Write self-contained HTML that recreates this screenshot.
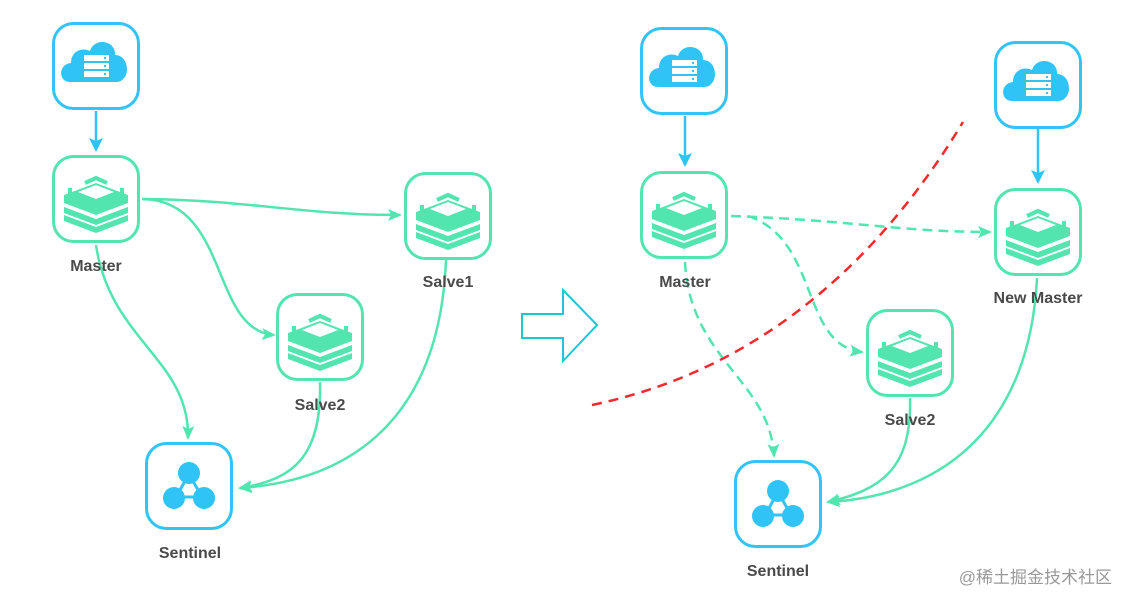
<!DOCTYPE html>
<html><head><meta charset="utf-8"><style>
html,body{margin:0;padding:0;background:#fff}
svg{display:block}
text{font-family:"Liberation Sans",sans-serif;font-weight:bold;font-size:16px;fill:#4a4a4a}
</style></head><body>
<svg width="1128" height="605" viewBox="0 0 1128 605" xmlns="http://www.w3.org/2000/svg">
<defs>
<marker id="ag" markerWidth="14" markerHeight="12" refX="12" refY="6" orient="auto" markerUnits="userSpaceOnUse"><path d="M0,0 L14,6 L0,12 L3,6 Z" fill="#4fe6b0"/></marker>
<marker id="ab" markerWidth="14" markerHeight="14" refX="12" refY="7" orient="auto" markerUnits="userSpaceOnUse"><path d="M0,0 L14,7 L0,14 L3,7 Z" fill="#2fc3f6"/></marker>
<g id="cloud">
<rect x="1.5" y="1.5" width="85" height="85" rx="20" fill="#fff" stroke="#33c3f6" stroke-width="3"/>
<path d="M18,60 C6,60 6,42 19,41 C19,29 30,25 38,29 C42,15 64,18 63,33 C76,33 78,52 71,57 C69,60 65,60 62,60 Z" fill="#2fc3f6"/>
<rect x="32" y="33" width="25" height="6" fill="#fff"/><rect x="32" y="41" width="25" height="6" fill="#fff"/><rect x="32" y="49" width="25" height="6" fill="#fff"/>
<circle cx="53" cy="36" r="1.2" fill="#2fc3f6"/><circle cx="53" cy="44" r="1.2" fill="#2fc3f6"/><circle cx="53" cy="52" r="1.2" fill="#2fc3f6"/>
</g>
<g id="redis">
<rect x="1.5" y="1.5" width="85" height="85" rx="20" fill="#fff" stroke="#52e5b0" stroke-width="3"/>
<g fill="#52e5b0">
<path d="M12,40 L44,28 L76,40 L76,48 L44,60 L12,48 Z"/>
<path d="M12,52 L44,64 L76,52 L76,58 L44,70 L12,58 Z"/>
<path d="M12,62 L44,74 L76,62 L76,68 L44,80 L12,68 Z" transform="translate(0,-2)"/>
</g>
<path d="M26,37 L44,30 L62,37 L44,44 Z" fill="#fff"/>
<path d="M33,28 L44,23 L55,28 M70,33 L70,39 M18,33 L18,39 M33,45 L44,49 L55,45" stroke="#52e5b0" stroke-width="4" fill="none"/>
</g>
<g id="sent">
<rect x="1.5" y="1.5" width="85" height="85" rx="20" fill="#fff" stroke="#33c3f6" stroke-width="3"/>
<path d="M44,32 L31,55 L57,55 Z" fill="none" stroke="#2fc3f6" stroke-width="3"/>
<circle cx="44" cy="31" r="11" fill="#2fc3f6"/><circle cx="29" cy="56" r="11" fill="#2fc3f6"/><circle cx="59" cy="56" r="11" fill="#2fc3f6"/>
</g>
</defs>
<g fill="none" stroke="#52e5b0" stroke-width="2.5">
<path d="M142,199 C250,200 300,215 400,215" marker-end="url(#ag)"/>
<path d="M142,199 C230,200 210,330 274,335" marker-end="url(#ag)"/>
<path d="M96,245 C110,340 190,360 188,438" marker-end="url(#ag)"/>
<path d="M320,382 C322,460 290,480 240,488" marker-end="url(#ag)"/>
<path d="M446,260 C440,410 360,480 240,488" marker-end="url(#ag)"/>
</g>
<path d="M96,111 L96,150" stroke="#2fc3f6" stroke-width="2.5" marker-end="url(#ab)"/>
<use href="#cloud" x="52" y="22"/>
<use href="#redis" x="52" y="155"/>
<use href="#redis" x="404" y="172"/>
<use href="#redis" x="276" y="293"/>
<use href="#sent" x="145" y="442"/>
<text x="96" y="271" text-anchor="middle">Master</text>
<text x="448" y="287" text-anchor="middle">Salve1</text>
<text x="320" y="410" text-anchor="middle">Salve2</text>
<text x="190" y="558" text-anchor="middle">Sentinel</text>
<path d="M522,314 L563,314 L563,290 L597,325 L563,361 L563,338 L522,338 Z" fill="#fff" stroke="#1fc6d6" stroke-width="2"/>
<g fill="none" stroke="#52e5b0" stroke-width="2.5" stroke-dasharray="10,6">
<path d="M731,216 C850,220 900,232 990,232" marker-end="url(#ag)"/>
<path d="M748,216 C820,240 800,345 862,352" marker-end="url(#ag)"/>
<path d="M685,262 C690,360 770,380 774,456" marker-end="url(#ag)"/>
</g>
<g fill="none" stroke="#52e5b0" stroke-width="2.5">
<path d="M910,398 C912,470 880,490 828,502" marker-end="url(#ag)"/>
<path d="M1037,278 C1030,420 950,495 828,502" marker-end="url(#ag)"/>
</g>
<path d="M685,116 L685,165" stroke="#2fc3f6" stroke-width="2.5" marker-end="url(#ab)"/>
<path d="M1038,129 L1038,182" stroke="#2fc3f6" stroke-width="2.5" marker-end="url(#ab)"/>
<path d="M592,405 C760,370 880,260 963,122" fill="none" stroke="#f02a2a" stroke-width="2.5" stroke-dasharray="10,7"/>
<use href="#cloud" x="640" y="27"/>
<use href="#redis" x="640" y="171"/>
<use href="#cloud" x="994" y="41"/>
<use href="#redis" x="994" y="188"/>
<use href="#redis" x="866" y="309"/>
<use href="#sent" x="734" y="460"/>
<text x="685" y="287" text-anchor="middle">Master</text>
<text x="1038" y="303" text-anchor="middle">New Master</text>
<text x="910" y="425" text-anchor="middle">Salve2</text>
<text x="778" y="576" text-anchor="middle">Sentinel</text>
<text x="1112" y="583" text-anchor="end" style="font-weight:normal;font-size:17px;fill:#999;font-family:'Liberation Sans','Noto Sans CJK SC',sans-serif">@稀土掘金技术社区</text>
</svg>
</body></html>
